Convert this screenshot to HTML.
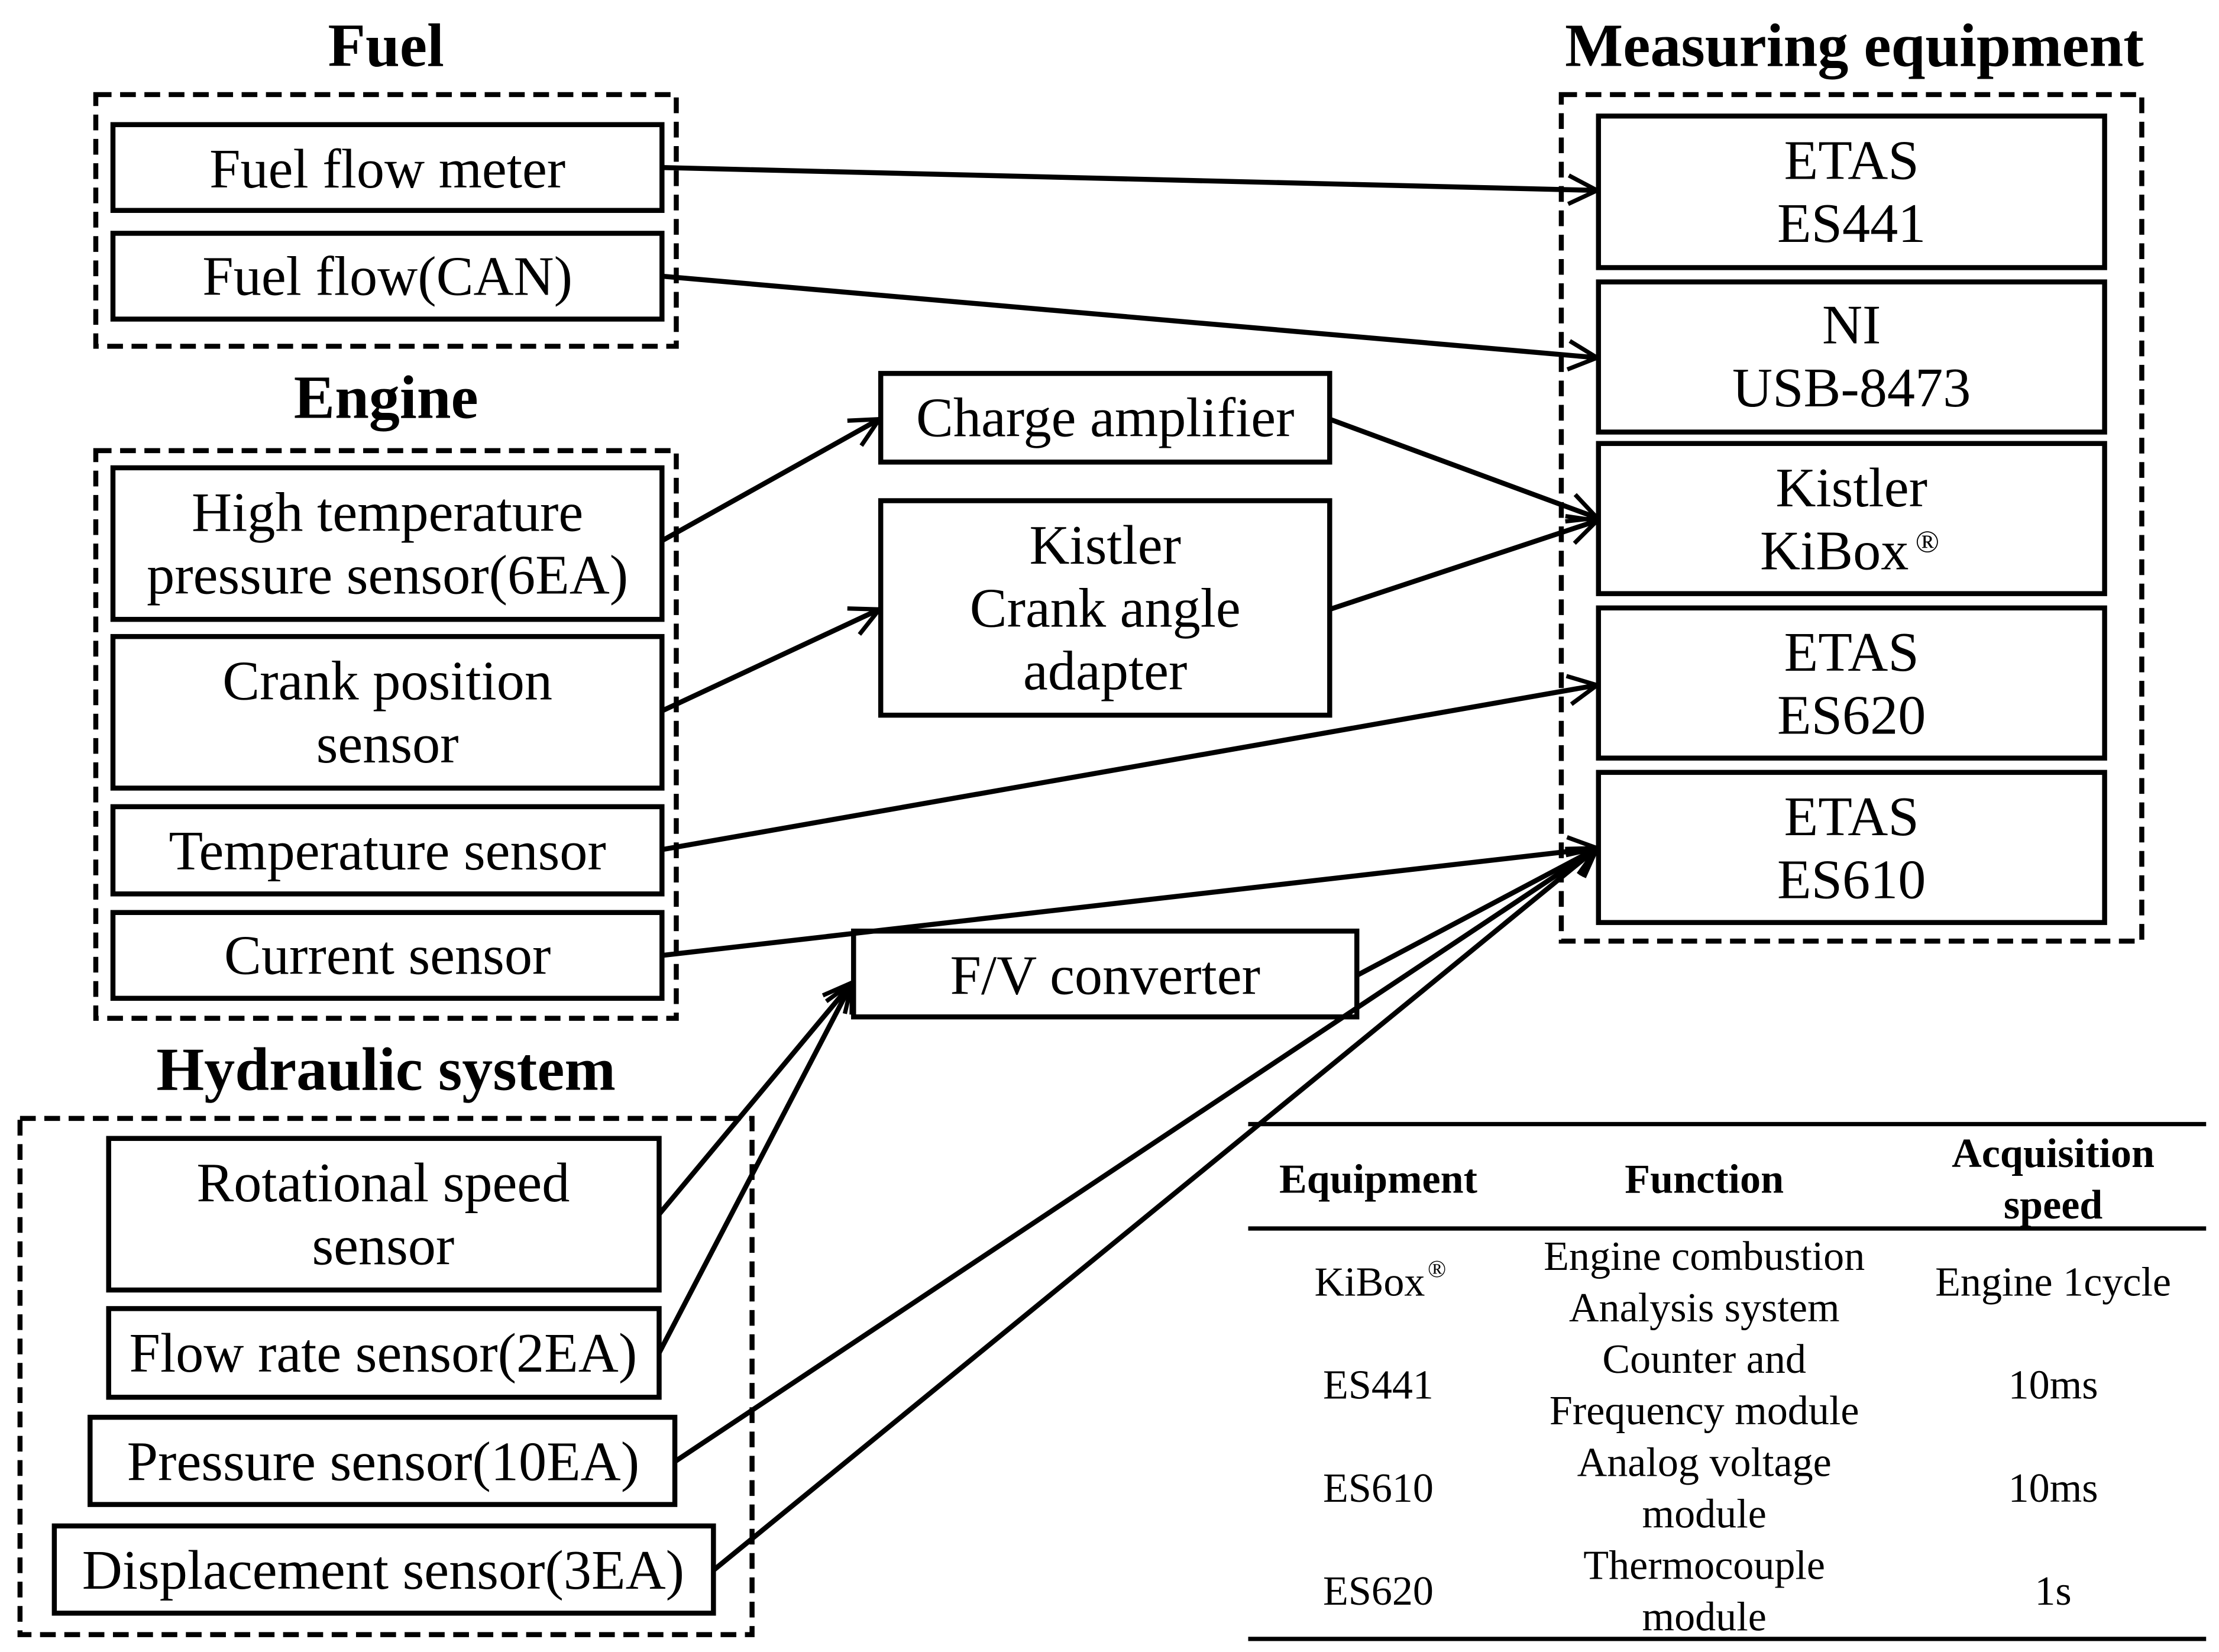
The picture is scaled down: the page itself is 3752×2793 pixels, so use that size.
<!DOCTYPE html>
<html><head><style>html,body{margin:0;padding:0;background:#fff}svg{display:block}</style></head>
<body>
<svg xmlns="http://www.w3.org/2000/svg" width="3752" height="2793" viewBox="0 0 1552 1155" font-family="'Liberation Serif', serif">
<defs>
<marker id="b" markerWidth="24" markerHeight="24" refX="22" refY="12" orient="auto" markerUnits="userSpaceOnUse" viewBox="0 0 24 24"><path d="M2,2 L22,12 L2,22" fill="none" stroke="#000" stroke-width="3"/></marker></defs>
<rect width="1552" height="1155" fill="#fff"/>
<g fill="none" stroke="#000" stroke-width="3.5" stroke-dasharray="11,6">
<rect x="67" y="66" width="406" height="176"/>
<rect x="67" y="315" width="406" height="397"/>
<rect x="14" y="782" width="512" height="361"/>
<rect x="1092" y="66" width="406" height="592"/>
</g>
<g fill="#fff" stroke="#000" stroke-width="3.5">
<rect x="79" y="87" width="384" height="60"/>
<rect x="79" y="163" width="384" height="60"/>
<rect x="79" y="327" width="384" height="106"/>
<rect x="79" y="445" width="384" height="106"/>
<rect x="79" y="564" width="384" height="61"/>
<rect x="79" y="638" width="384" height="60"/>
<rect x="76" y="796" width="385" height="106"/>
<rect x="76" y="915" width="385" height="62"/>
<rect x="63" y="991" width="409" height="61"/>
<rect x="38" y="1067" width="461" height="61"/>
<rect x="616" y="261" width="314" height="62"/>
<rect x="616" y="350" width="314" height="150"/>
<rect x="597" y="651" width="352" height="60"/>
<rect x="1118" y="81" width="354" height="106"/>
<rect x="1118" y="197" width="354" height="105"/>
<rect x="1118" y="310" width="354" height="105"/>
<rect x="1118" y="425" width="354" height="105"/>
<rect x="1118" y="540" width="354" height="105"/>
</g>
<g stroke="#000" stroke-width="3.5" marker-end="url(#b)" fill="none">
<line x1="463" y1="117" x2="1117" y2="133"/>
<line x1="463" y1="193" x2="1117" y2="250"/>
<line x1="463" y1="378" x2="615" y2="293"/>
<line x1="463" y1="497" x2="615" y2="426"/>
<line x1="930" y1="293" x2="1117" y2="362"/>
<line x1="930" y1="426" x2="1117" y2="364"/>
<line x1="463" y1="594" x2="1117" y2="479"/>
<line x1="463" y1="668" x2="1117" y2="593"/>
<line x1="949" y1="682" x2="1117" y2="593"/>
<line x1="461" y1="849" x2="596" y2="687"/>
<line x1="461" y1="946" x2="596" y2="687"/>
<line x1="472" y1="1022" x2="1117" y2="593"/>
<line x1="499" y1="1098" x2="1117" y2="593"/>
</g>
<g font-weight="bold" font-size="43" text-anchor="middle">
<text x="270" y="46">Fuel</text>
<text x="270" y="292">Engine</text>
<text x="270" y="762">Hydraulic system</text>
<text x="1297" y="46">Measuring equipment</text>
</g>
<g font-size="39" text-anchor="middle">
<text x="271" y="131">Fuel flow meter</text>
<text x="271" y="206">Fuel flow(CAN)</text>
<text x="271" y="371">High temperature</text>
<text x="271" y="415">pressure sensor(6EA)</text>
<text x="271" y="489">Crank position</text>
<text x="271" y="533">sensor</text>
<text x="271" y="608">Temperature sensor</text>
<text x="271" y="681">Current sensor</text>
<text x="268" y="840">Rotational speed</text>
<text x="268" y="884">sensor</text>
<text x="268" y="959">Flow rate sensor(2EA)</text>
<text x="268" y="1035">Pressure sensor(10EA)</text>
<text x="268" y="1111">Displacement sensor(3EA)</text>
<text x="773" y="305">Charge amplifier</text>
<text x="773" y="394">Kistler</text>
<text x="773" y="438">Crank angle</text>
<text x="773" y="482">adapter</text>
<text x="773" y="695">F/V converter</text>
<text x="1295" y="125">ETAS</text>
<text x="1295" y="169">ES441</text>
<text x="1295" y="240">NI</text>
<text x="1295" y="284">USB-8473</text>
<text x="1295" y="354">Kistler</text>
<text x="1283" y="398">KiBox</text><text x="1348" y="386" font-size="22">®</text>
<text x="1295" y="469">ETAS</text>
<text x="1295" y="513">ES620</text>
<text x="1295" y="584">ETAS</text>
<text x="1295" y="628">ES610</text>
</g>
<g stroke="#000" stroke-width="3">
<line x1="873" y1="786" x2="1543" y2="786"/>
<line x1="873" y1="859" x2="1543" y2="859"/>
<line x1="873" y1="1146" x2="1543" y2="1146"/>
</g>
<g font-size="29" text-anchor="middle" font-weight="bold">
<text x="964" y="834">Equipment</text>
<text x="1192" y="834">Function</text>
<text x="1436" y="816">Acquisition</text>
<text x="1436" y="852">speed</text>
</g>
<g font-size="29" text-anchor="middle">
<text x="958" y="906">KiBox</text><text x="1005" y="893" font-size="17">®</text>
<text x="1192" y="888">Engine combustion</text>
<text x="1192" y="924">Analysis system</text>
<text x="1436" y="906">Engine 1cycle</text>
<text x="964" y="978">ES441</text>
<text x="1192" y="960">Counter and</text>
<text x="1192" y="996">Frequency module</text>
<text x="1436" y="978">10ms</text>
<text x="964" y="1050">ES610</text>
<text x="1192" y="1032">Analog voltage</text>
<text x="1192" y="1068">module</text>
<text x="1436" y="1050">10ms</text>
<text x="964" y="1122">ES620</text>
<text x="1192" y="1104">Thermocouple</text>
<text x="1192" y="1140">module</text>
<text x="1436" y="1122">1s</text>
</g>
</svg>
</body></html>
